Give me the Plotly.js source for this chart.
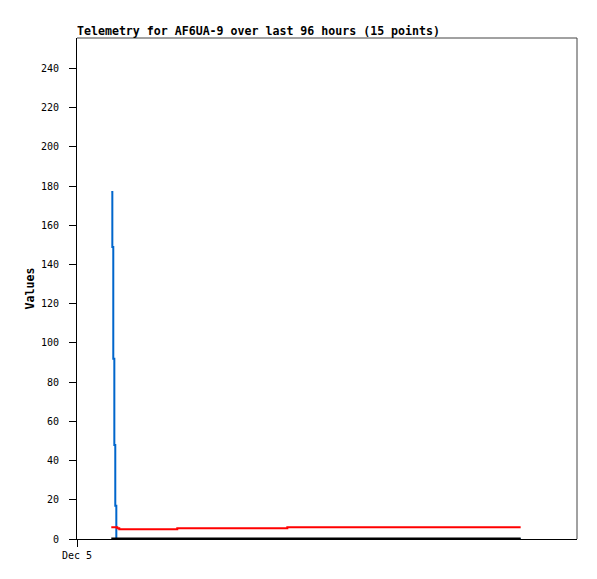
<!DOCTYPE html>
<html>
<head>
<meta charset="utf-8">
<script src="https://cdn.plot.ly/plotly-3.0.1.min.js"></script>
<style>
  html, body { margin: 0; padding: 0; background: #fff; }
  #chart { width: 597px; height: 579px; }
</style>
</head>
<body>
<div id="chart"></div>
<script>
// Timestamps of the 15 telemetry points
var times = [
  '2024-12-05 06:35', '2024-12-05 06:47', '2024-12-05 06:58', '2024-12-05 07:10',
  '2024-12-05 07:21', '2024-12-05 07:33', '2024-12-05 07:44', '2024-12-05 07:56',
  '2024-12-05 08:07', '2024-12-05 12:06', '2024-12-05 19:15', '2024-12-06 05:23',
  '2024-12-06 16:23', '2024-12-07 14:01', '2024-12-08 13:11'
];
// Series values
var blueValues  = [177, 149, 92, 48, 17, 0, 0, 0, 0, 0, 0, 0, 0, 0, 0];
var redValues   = [6.0, 6.0, 6.0, 6.0, 6.0, 6.0, 5.5, 5.5, 5.0, 5.0, 5.5, 5.5, 6.0, 6.0, 6.0];
var blackValues = [0, 0, 0, 0, 0, 0, 0, 0, 0, 0, 0, 0, 0, 0, 0];
// Axis ticks
var xTickVals  = ['2024-12-05 00:00'];
var xTickText  = ['Dec 5'];
var yTickVals  = [0, 20, 40, 60, 80, 100, 120, 140, 160, 180, 200, 220, 240];
var xRange = ['2024-12-05 00:00', '2024-12-09 00:00'];
var yRange = [0, 255.6];

var traces = [
  { x: times, y: blueValues, type: 'scatter', mode: 'lines',
    line: { color: '#0066cc', width: 2, shape: 'hv' }, hoverinfo: 'skip' },
  { x: times, y: redValues, type: 'scatter', mode: 'lines',
    line: { color: '#ff0000', width: 2, shape: 'hv' }, hoverinfo: 'skip' },
  { x: times, y: blackValues, type: 'scatter', mode: 'lines',
    line: { color: '#000000', width: 3, shape: 'hv' }, hoverinfo: 'skip' }
];

var tickFont = { family: 'DejaVu Sans Mono', size: 10, color: '#000' };
var titleFont = { family: 'DejaVu Sans Mono', size: 11.6, color: '#000', weight: 'bold' };

var layout = {
  width: 597, height: 579,
  margin: { l: 77, r: 20, t: 38, b: 40, pad: 0 },
  paper_bgcolor: '#ffffff', plot_bgcolor: '#ffffff',
  showlegend: false,
  title: {
    text: '<b>Telemetry for AF6UA-9 over last 96 hours (15 points)</b>',
    font: titleFont,
    xref: 'paper', x: 0, xanchor: 'left',
    yref: 'container', y: 1 - 31 / 579, yanchor: 'middle'
  },
  xaxis: {
    type: 'date', range: xRange,
    tickmode: 'array', tickvals: xTickVals, ticktext: xTickText,
    ticks: 'outside', ticklen: 7, tickcolor: '#000', tickwidth: 1,
    tickfont: tickFont,
    showgrid: false, zeroline: false,
    showline: true, linecolor: '#000', linewidth: 1
  },
  yaxis: {
    range: yRange,
    tickmode: 'array', tickvals: yTickVals,
    ticks: 'outside', ticklen: 7, tickcolor: '#000', tickwidth: 1,
    tickfont: tickFont, ticklabelstandoff: 8,
    showgrid: false, zeroline: false,
    showline: true, linecolor: '#000', linewidth: 1,
    title: { text: '<b>Values</b>', font: titleFont, standoff: 3 }
  },
  shapes: [
    { type: 'line', xref: 'paper', yref: 'paper', x0: 0, x1: 1, y0: 1, y1: 1,
      line: { color: '#444', width: 1 } },
    { type: 'line', xref: 'paper', yref: 'paper', x0: 1, x1: 1, y0: 0, y1: 1,
      line: { color: '#444', width: 1 } }
  ]
};

Plotly.newPlot('chart', traces, layout, { staticPlot: true, displayModeBar: false });
</script>
</body>
</html>
